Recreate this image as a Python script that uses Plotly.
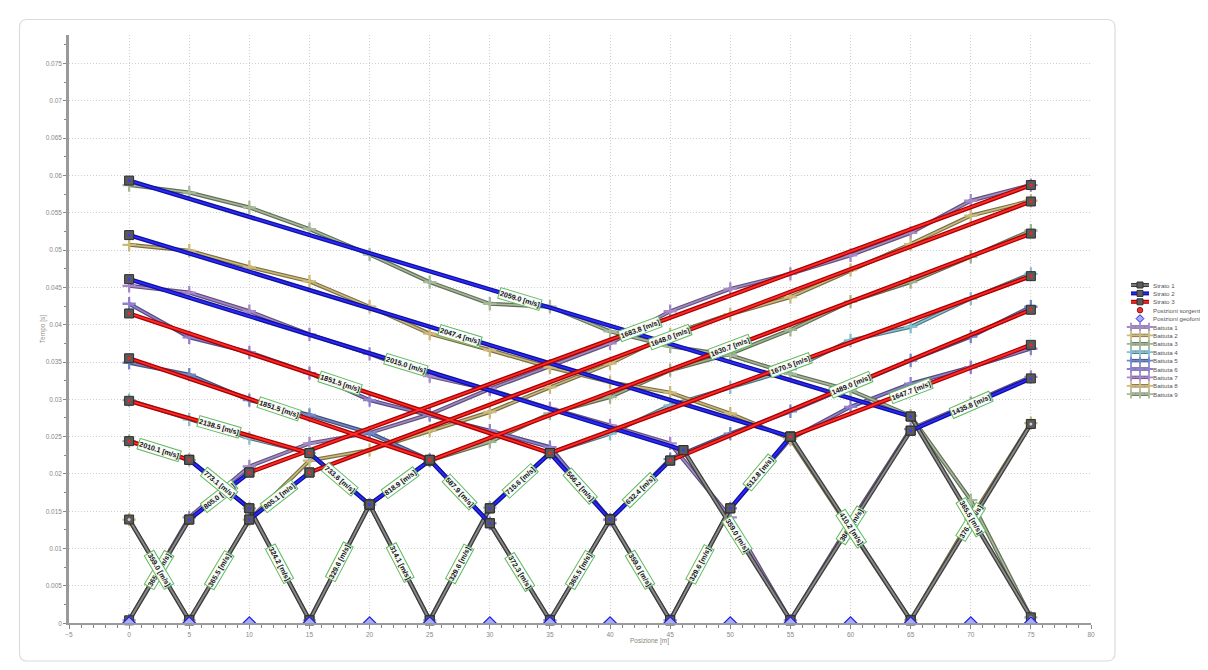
import math
import plotly.graph_objects as go

W, H = 1208, 670      # browser window
OFF = 8               # default page margin of the html body
FW, FH = W - OFF, H - OFF

# ---------------- data ----------------
geofoni_x = [0, 5, 10, 15, 20, 25, 30, 35, 40, 45, 50, 55, 60, 65, 70, 75]
sorgenti_x = [0, 5, 15, 25, 35, 45, 55, 65, 75]

battuta_1 = [0.0004, 0.0142, 0.0210, 0.0241, 0.0255, 0.0280, 0.0314, 0.0345, 0.0375, 0.0418, 0.0448, 0.0468, 0.0493, 0.0523, 0.0566, 0.0587]
battuta_2 = [0.0139, 0.0004, 0.0139, 0.0218, 0.0232, 0.0258, 0.0283, 0.0316, 0.0348, 0.0387, 0.0414, 0.0437, 0.0473, 0.0508, 0.0546, 0.0566]
battuta_3 = [0.0244, 0.0219, 0.0154, 0.0004, 0.0159, 0.0218, 0.0243, 0.0281, 0.0303, 0.0339, 0.0361, 0.0393, 0.0431, 0.0457, 0.0491, 0.0526]
battuta_4 = [0.0299, 0.0273, 0.0248, 0.0228, 0.0159, 0.0004, 0.0155, 0.0228, 0.0254, 0.0292, 0.0316, 0.0340, 0.0379, 0.0397, 0.0435, 0.0468]
battuta_5 = [0.0349, 0.0333, 0.0299, 0.0279, 0.0255, 0.0219, 0.0134, 0.0004, 0.0139, 0.0220, 0.0254, 0.0284, 0.0318, 0.0352, 0.0384, 0.0424]
battuta_6 = [0.0428, 0.0383, 0.0363, 0.0335, 0.0299, 0.0279, 0.0258, 0.0236, 0.0139, 0.0004, 0.0154, 0.0247, 0.0290, 0.0321, 0.0343, 0.0368]
battuta_7 = [0.0452, 0.0443, 0.0418, 0.0387, 0.0361, 0.0331, 0.0313, 0.0288, 0.0265, 0.0241, 0.0142, 0.0004, 0.0135, 0.0260, 0.0295, 0.0330]
battuta_8 = [0.0507, 0.0499, 0.0477, 0.0458, 0.0424, 0.0388, 0.0366, 0.0343, 0.0323, 0.0309, 0.0281, 0.0247, 0.0125, 0.0004, 0.0140, 0.0268]
battuta_9 = [0.0587, 0.0577, 0.0557, 0.0528, 0.0494, 0.0457, 0.0428, 0.0424, 0.0391, 0.0371, 0.0359, 0.0334, 0.0312, 0.0278, 0.0165, 0.0008]

battuta_names = ["Battuta 1", "Battuta 2", "Battuta 3", "Battuta 4", "Battuta 5",
                 "Battuta 6", "Battuta 7", "Battuta 8", "Battuta 9"]
battuta_colors = ["#a48bc8", "#cbbb7c", "#9fb590", "#84c0d0", "#7088c8",
                  "#9080d0", "#a888cc", "#cdb978", "#a6ba98"]

# layer segments: (x start, t start, x end, t end, velocity label)
strato_1 = [
    (0, 0.0004, 5, 0.0139, "365.5"),
    (5, 0.0004, 0, 0.0139, "359.0"),
    (5, 0.0004, 10, 0.0139, "365.5"),
    (15, 0.0004, 10, 0.0154, "324.2"),
    (15, 0.0004, 20, 0.0159, "329.6"),
    (25, 0.0004, 20, 0.0159, "314.1"),
    (25, 0.0004, 30, 0.0154, "329.6"),
    (35, 0.0004, 30, 0.0134, "372.3"),
    (35, 0.0004, 40, 0.0139, "365.5"),
    (45, 0.0004, 40, 0.0139, "359.0"),
    (45, 0.0004, 50, 0.0154, "329.6"),
    (55, 0.0004, 46.1, 0.0232, "359.0"),
    (55, 0.0004, 65, 0.0258, "386.2"),
    (65, 0.0004, 55, 0.0250, "410.2"),
    (65, 0.0004, 75, 0.0267, "376.1"),
    (75, 0.0008, 65, 0.0277, "365.5"),
]
strato_2 = [
    (5, 0.0139, 10, 0.0202, "805.0"),
    (10, 0.0139, 15, 0.0202, "805.1"),
    (10, 0.0154, 5, 0.0219, "773.1"),
    (20, 0.0159, 25, 0.0218, "818.9"),
    (20, 0.0159, 15, 0.0228, "733.6"),
    (30, 0.0154, 35, 0.0228, "715.6"),
    (30, 0.0134, 25, 0.0219, "587.9"),
    (40, 0.0139, 45, 0.0218, "632.4"),
    (40, 0.0139, 35, 0.0228, "566.2"),
    (50, 0.0154, 55, 0.0250, "512.8"),
    (46.1, 0.0232, 0, 0.0461, "2015.0"),
    (65, 0.0258, 75, 0.0328, "1435.8"),
    (55, 0.0250, 0, 0.0520, "2047.4"),
    (65, 0.0277, 0, 0.0593, "2059.0"),
]
strato_3 = [
    (10, 0.0202, 75, 0.0587, "1683.8"),
    (15, 0.0202, 75, 0.0565, "1648.0"),
    (5, 0.0219, 0, 0.0244, "2010.1"),
    (25, 0.0218, 75, 0.0522, "1630.7"),
    (15, 0.0228, 0, 0.0298, "2138.5"),
    (35, 0.0228, 75, 0.0465, "1670.5"),
    (25, 0.0219, 0, 0.0355, "1851.5"),
    (45, 0.0218, 75, 0.0420, "1489.0"),
    (35, 0.0228, 0, 0.0415, "1851.5"),
    (55, 0.0250, 75, 0.0373, "1647.7"),
]

x_tick_vals = [-5, 0, 5, 10, 15, 20, 25, 30, 35, 40, 45, 50, 55, 60, 65, 70, 75, 80]
y_tick_vals = [0, 0.005, 0.01, 0.015, 0.02, 0.025, 0.03, 0.035, 0.04, 0.045, 0.05, 0.055, 0.06, 0.065, 0.07, 0.075]
y_tick_text = ["0", "0.005", "0.01", "0.015", "0.02", "0.025", "0.03", "0.035", "0.04", "0.045",
               "0.05", "0.055", "0.06", "0.065", "0.07", "0.075"]

# ---------------- layout geometry (window pixels) ----------------
X_RANGE = [-5, 80]
Y_RANGE = [0, 0.0788]
PX_L, PX_R, PX_T, PX_B = 69, 1091, 35, 623.3
x_dom = [(PX_L - OFF) / FW, (PX_R - OFF) / FW]
y_dom = [(H - PX_B) / FH, (H - PX_T) / FH]
sx = (PX_R - PX_L) / (X_RANGE[1] - X_RANGE[0])
sy = (PX_B - PX_T) / (Y_RANGE[1] - Y_RANGE[0])

FONT = "Liberation Sans, Arial, sans-serif"


def darken(hexc, f):
    h = hexc.lstrip("#")
    r, g, b = int(h[0:2], 16), int(h[2:4], 16), int(h[4:6], 16)
    return "#%02x%02x%02x" % (int(r * f), int(g * f), int(b * f))


fig = go.Figure()

battute = [battuta_1, battuta_2, battuta_3, battuta_4, battuta_5,
           battuta_6, battuta_7, battuta_8, battuta_9]

# ---------------- battute (shots) ----------------
for name, vals, col in zip(battuta_names, battute, battuta_colors):
    fig.add_trace(go.Scatter(x=geofoni_x, y=vals, mode="lines", showlegend=False, hoverinfo="skip",
                             line=dict(color=darken(col, 0.6), width=4)))
    fig.add_trace(go.Scatter(x=geofoni_x, y=vals, mode="lines+markers", name=name, showlegend=False,
                             line=dict(color=col, width=1.6),
                             marker=dict(symbol="cross-thin", size=9.5,
                                         line=dict(color=col, width=2.3))))

# ---------------- strati (layers) ----------------
strato_styles = [
    ("Strato 1", strato_1, "#3c3c3c", "#8a8a8a", "#cfcfcf"),
    ("Strato 2", strato_2, "#10109a", "#2a2aff", "#3a3aff"),
    ("Strato 3", strato_3, "#a80000", "#ff2a2a", "#ff2020"),
]
for name, segs, outer, inner, dot in strato_styles:
    xs, ys = [], []
    for x0, y0, x1, y1, _ in segs:
        xs += [x0, x1, None]
        ys += [y0, y1, None]
    fig.add_trace(go.Scatter(x=xs, y=ys, mode="lines", showlegend=False, hoverinfo="skip",
                             line=dict(color=outer, width=4.4)))
    fig.add_trace(go.Scatter(x=xs, y=ys, mode="lines", name=name, showlegend=False,
                             line=dict(color=inner, width=1.8)))

for name, segs, outer, inner, dot in strato_styles:
    xs, ys = [], []
    for x0, y0, x1, y1, _ in segs:
        xs += [x0, x1]
        ys += [y0, y1]
    fig.add_trace(go.Scatter(x=xs, y=ys, mode="markers", showlegend=False, hoverinfo="skip", cliponaxis=False,
                             marker=dict(symbol="square", size=9, color="#5a5a5a",
                                         line=dict(color="#2e2e2e", width=1))))
    fig.add_trace(go.Scatter(x=xs, y=ys, mode="markers", showlegend=False, hoverinfo="skip", cliponaxis=False,
                             marker=dict(symbol="circle", size=3, color=dot)))

# sources and geophones
fig.add_trace(go.Scatter(x=sorgenti_x, y=[0] * len(sorgenti_x), mode="markers", name="Posizioni sorgenti",
                         showlegend=False,
                         marker=dict(symbol="circle", size=9, color="#e83535", line=dict(color="#a01010", width=1))))
fig.add_trace(go.Scatter(x=geofoni_x, y=[0] * len(geofoni_x), mode="markers", name="Posizioni geofoni",
                         showlegend=False,
                         marker=dict(symbol="diamond", size=10, color="#a8acff", line=dict(color="#2020e0", width=1.2))))

# velocity labels
annotations = []
for segs in (strato_1, strato_2, strato_3):
    for x0, y0, x1, y1, v in segs:
        dxp = (x1 - x0) * sx
        dyp = -(y1 - y0) * sy
        ang = math.degrees(math.atan2(dyp, dxp))
        if ang > 90:
            ang -= 180
        elif ang <= -90:
            ang += 180
        annotations.append(dict(x=(x0 + x1) / 2, y=(y0 + y1) / 2, xref="x", yref="y",
                                text="<b>%s [m/s]</b>" % v, showarrow=False, textangle=ang,
                                font=dict(family=FONT, size=7.2, color="#111111"),
                                bgcolor="rgba(250,255,250,0.97)", bordercolor="#62b862",
                                borderwidth=1, borderpad=0.5))

# ---------------- custom legend (pixel overlay axes) ----------------
leg_items = [("Strato 1", "strato", strato_styles[0]), ("Strato 2", "strato", strato_styles[1]),
             ("Strato 3", "strato", strato_styles[2]),
             ("Posizioni sorgenti", "src", None), ("Posizioni geofoni", "geo", None)]
leg_items += [(n, "bat", c) for n, c in zip(battuta_names, battuta_colors)]
LEG_Y0, LEG_DY = 285, 8.4
for i, (label, kind, sty) in enumerate(leg_items):
    yy = LEG_Y0 + i * LEG_DY
    if kind == "strato":
        _, _, outer, inner, dot = sty
        fig.add_trace(go.Scatter(x=[1131, 1149], y=[yy, yy], xaxis="x2", yaxis="y2", mode="lines",
                                 showlegend=False, hoverinfo="skip", line=dict(color=outer, width=4)))
        fig.add_trace(go.Scatter(x=[1131, 1149], y=[yy, yy], xaxis="x2", yaxis="y2", mode="lines",
                                 showlegend=False, hoverinfo="skip", line=dict(color=inner, width=1.6)))
        fig.add_trace(go.Scatter(x=[1140], y=[yy], xaxis="x2", yaxis="y2", mode="markers",
                                 showlegend=False, hoverinfo="skip",
                                 marker=dict(symbol="square", size=6, color="#5c5c5c",
                                             line=dict(color="#2e2e2e", width=1))))
    elif kind == "src":
        fig.add_trace(go.Scatter(x=[1140], y=[yy], xaxis="x2", yaxis="y2", mode="markers",
                                 showlegend=False, hoverinfo="skip",
                                 marker=dict(symbol="circle", size=5.5, color="#e83535",
                                             line=dict(color="#a01010", width=1))))
    elif kind == "geo":
        fig.add_trace(go.Scatter(x=[1140], y=[yy], xaxis="x2", yaxis="y2", mode="markers",
                                 showlegend=False, hoverinfo="skip",
                                 marker=dict(symbol="diamond", size=6, color="#a8acff",
                                             line=dict(color="#2020e0", width=1))))
    else:
        col = sty
        fig.add_trace(go.Scatter(x=[1131, 1149], y=[yy, yy], xaxis="x2", yaxis="y2", mode="lines",
                                 showlegend=False, hoverinfo="skip", line=dict(color=darken(col, 0.6), width=3.4)))
        fig.add_trace(go.Scatter(x=[1131, 1140, 1149], y=[yy, yy, yy], xaxis="x2", yaxis="y2",
                                 mode="lines+markers", showlegend=False, hoverinfo="skip",
                                 line=dict(color=col, width=1.3),
                                 marker=dict(symbol="cross-thin", size=6, line=dict(color=col, width=1.8))))
    annotations.append(dict(x=1151, y=yy, xref="x2", yref="y2", text=label, showarrow=False,
                            xanchor="left", yanchor="middle",
                            font=dict(family=FONT, size=6.2, color="#555555")))

# axis titles
annotations.append(dict(x=43, y=(PX_T + PX_B) / 2, xref="x2", yref="y2", text="Tempo [s]", showarrow=False,
                        textangle=-90, font=dict(family=FONT, size=6.5, color="#9a8a86")))
annotations.append(dict(x=(PX_L + PX_R) / 2 + 69, y=641, xref="x2", yref="y2", text="Posizione [m]",
                        showarrow=False, font=dict(family=FONT, size=6.5, color="#8a8478")))

shapes = [
    dict(type="path", xref="x2", yref="y2",
         path="M 27,19.5 L 1107,19.5 Q 1115,19.5 1115,27.5 L 1115,653 Q 1115,661 1107,661 "
              "L 27,661 Q 19.5,661 19.5,653 L 19.5,27.5 Q 19.5,19.5 27,19.5 Z",
         line=dict(color="#dcdcdc", width=1.2), layer="below"),
]

GRID_DASH = "1px,2px"
fig.update_layout(
    width=FW, height=FH, template="none",
    margin=dict(l=0, r=0, t=0, b=0, pad=0),
    paper_bgcolor="white", plot_bgcolor="rgba(0,0,0,0)",
    showlegend=False,
    font=dict(family=FONT, size=7, color="#888888"),
    xaxis=dict(domain=x_dom, range=X_RANGE, tickmode="array", tickvals=x_tick_vals,
               ticks="outside", ticklen=4, tickwidth=1, tickcolor="#888888",
               showline=True, linecolor="#9a9a9a", linewidth=2,
               showgrid=True, gridcolor="#cfcfcf", griddash=GRID_DASH, gridwidth=1,
               zeroline=False, tickfont=dict(family=FONT, size=6.5, color="#888888"),
               minor=dict(tickmode="linear", tick0=0, dtick=1, ticks="outside", ticklen=2.5,
                          tickcolor="#888888", showgrid=False),
               anchor="y", fixedrange=True),
    yaxis=dict(domain=y_dom, range=Y_RANGE, tickmode="array", tickvals=y_tick_vals, ticktext=y_tick_text,
               ticks="outside", ticklen=3, tickwidth=1, tickcolor="#888888",
               showline=True, linecolor="#9a9a9a", linewidth=2.5,
               showgrid=True, gridcolor="#cfcfcf", griddash=GRID_DASH, gridwidth=1,
               zeroline=False, tickfont=dict(family=FONT, size=6.5, color="#888888"),
               minor=dict(tickmode="linear", tick0=0, dtick=0.0025, ticks="outside", ticklen=2.5,
                          tickcolor="#888888", showgrid=False),
               anchor="x", fixedrange=True),
    xaxis2=dict(domain=[0, 1], range=[OFF, W], visible=False, anchor="y2", fixedrange=True),
    yaxis2=dict(domain=[0, 1], range=[H, OFF], visible=False, anchor="x2", fixedrange=True),
    annotations=annotations,
    shapes=shapes,
)

fig.write_html("out.html", config={"displayModeBar": False})
